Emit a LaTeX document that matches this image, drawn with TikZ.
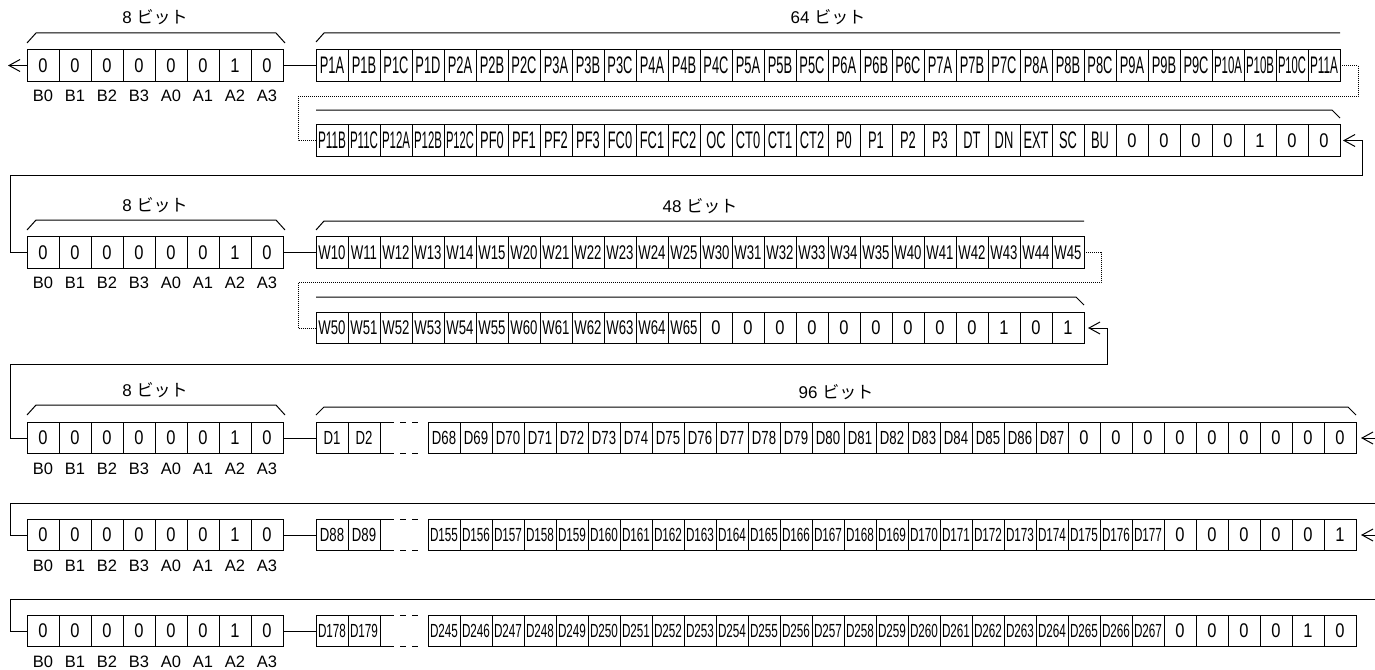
\documentclass[tikz,border=0pt]{standalone}
\usepackage{fontspec}
\usepackage{graphicx}
\setmainfont{Liberation Sans}
\newfontfamily\jpfont{Noto Sans CJK JP}
\usetikzlibrary{arrows.meta}
\newsavebox\cbox
\newcommand\ct[3]{\sbox\cbox{\scalebox{#1}[#2]{#3}}\ifdim\wd\cbox>28pt\resizebox{28pt}{\height}{\usebox\cbox}\else\usebox\cbox\fi}
\newcommand\dig[1]{\scalebox{1}[1.2]{#1}}
\newcommand\bits[1]{#1 {\jpfont ビット}}
\begin{document}
\begin{tikzpicture}[x=1pt,y=-1pt,
  cellbox/.style={draw, line width=1pt, minimum width=32pt, minimum height=31.5pt, inner sep=0pt, outer sep=0pt, font=\fontsize{16.5}{18}\selectfont},
  lab/.style={inner sep=0pt, font=\fontsize{16.5}{18}\selectfont},
  blab/.style={inner sep=0pt, font=\fontsize{17}{20}\selectfont},
  conn/.style={line width=1pt},
  brace/.style={line width=1pt},
  dots/.style={line width=0.8pt, dash pattern=on 1pt off 1pt},
  gapdash/.style={line width=1pt, dash pattern=on 14pt off 6pt on 6pt off 6pt on 6pt off 10pt},
  arr/.style={line width=1pt, -{Straight Barb[length=11pt,width=12pt,line width=1pt]}}
]
\useasboundingbox (0,0) rectangle (1375,669);

% ---------- eight-bit blocks ----------
\foreach \r/\y in {r1/65.5, r3/252.5, r5/438, r6/535, r7/631}{
  \foreach \v [count=\i] in {0,0,0,0,0,0,1,0}
    \node[cellbox] (\r b\i) at ({11+32*\i},\y) {\dig{\v}};
  \foreach \l [count=\i] in {B0,B1,B2,B3,A0,A1,A2,A3}
    \node[lab] (\r l\i) at ({11+32*\i},{\y+30.5}) {\l};
}

% ---------- row 1 ----------
\foreach \t [count=\i] in {P1A,P1B,P1C,P1D,P2A,P2B,P2C,P3A,P3B,P3C,P4A,P4B,P4C,P5A,P5B,P5C,P6A,P6B,P6C,P7A,P7B,P7C,P8A,P8B,P8C,P9A,P9B,P9C,P10A,P10B,P10C,P11A}
  \node[cellbox] (r1c\i) at ({300+32*\i},65.5) {\ct{0.78}{1.45}{\t}};
% ---------- row 2 ----------
\foreach \t [count=\i] in {P11B,P11C,P12A,P12B,P12C,PF0,PF1,PF2,PF3,FC0,FC1,FC2,OC,CT0,CT1,CT2,P0,P1,P2,P3,DT,DN,EXT,SC,BU}
  \node[cellbox] (r2c\i) at ({300+32*\i},140.5) {\ct{0.78}{1.45}{\t}};
\foreach \v [count=\i from 26] in {0,0,0,0,1,0,0}
  \node[cellbox] (r2c\i) at ({300+32*\i},140.5) {\dig{\v}};
% ---------- row 3 ----------
\foreach \t [count=\i] in {W10,W11,W12,W13,W14,W15,W20,W21,W22,W23,W24,W25,W30,W31,W32,W33,W34,W35,W40,W41,W42,W43,W44,W45}
  \node[cellbox] (r3c\i) at ({300+32*\i},252.5) {\ct{0.8}{1.2}{\t}};
% ---------- row 4 ----------
\foreach \t [count=\i] in {W50,W51,W52,W53,W54,W55,W60,W61,W62,W63,W64,W65}
  \node[cellbox] (r4c\i) at ({300+32*\i},328) {\ct{0.8}{1.2}{\t}};
\foreach \v [count=\i from 13] in {0,0,0,0,0,0,0,0,0,1,0,1}
  \node[cellbox] (r4c\i) at ({300+32*\i},328) {\dig{\v}};
% ---------- rows 5-7 ----------
\foreach \r/\y/\a/\b/\lo/\hi/\zz in {r5/438/1/2/68/87/{0,0,0,0,0,0,0,0,0}, r6/535/88/89/155/177/{0,0,0,0,0,1}, r7/631/178/179/245/267/{0,0,0,0,1,0}}{
  \node[cellbox] (\r c1) at (332,\y) {\ct{0.8}{1.15}{D\a}};
  \node[cellbox] (\r c2) at (364,\y) {\ct{0.8}{1.15}{D\b}};
  \foreach \n [count=\i] in {\lo,...,\hi}
    \node[cellbox] (\r e\i) at ({412+32*\i},\y) {\ct{0.8}{1.15}{D\n}};
  \pgfmathtruncatemacro\k{\hi-\lo+2}
  \foreach \v [count=\i from \k] in \zz
    \node[cellbox] (\r e\i) at ({412+32*\i},\y) {\dig{\v}};
  \draw[gapdash] (\r c2.north east) -- (\r e1.north west);
  \draw[gapdash] (\r c2.south east) -- (\r e1.south west);
}

% ---------- links between 8-bit block and data ----------
\foreach \r in {r1,r3,r5,r6,r7}
  \draw[conn] (\r b8.east) -- (\r c1.west);

% ---------- braces and bit labels ----------
\foreach \t in {50,237,422}{
  \draw[brace] (27,{\t-7}) -- (36,{\t-17}) -- (276,{\t-17}) -- (285,{\t-7});
}
\node[blab] (lb1) at (155,17) {\bits{8}};
\node[blab] (lb3) at (155,205) {\bits{8}};
\node[blab] (lb5) at (155,390) {\bits{8}};
% 64 bit
\draw[brace] (316,42) -- (324,33) -- (1340,33);
\draw[brace] (316,110) -- (1332,110) -- (1340,118);
\node[blab] (l64) at (828,17) {\bits{64}};
% 48 bit
\draw[brace] (316,230) -- (324,221) -- (1084,221);
\draw[brace] (316,297) -- (1076,297) -- (1084,305);
\node[blab] (l48) at (700,206) {\bits{48}};
% 96 bit
\draw[brace] (316,415) -- (324,407) -- (1348,407) -- (1356,415);
\node[blab] (l96) at (836,392) {\bits{96}};

% ---------- dotted continuations ----------
\coordinate (d1) at (1358,96);
\coordinate (d2) at (298,96);
\draw[dots] (r1c32.east) -| (d1) -- (d2) |- (r2c1.west);
\coordinate (d3) at (1101,282);
\coordinate (d4) at (298,282);
\draw[dots] (r3c24.east) -| (d3) -- (d4) |- (r4c1.west);

% ---------- flow connectors ----------
\coordinate (out1) at (8,65.5);
\draw[arr] (r1b1.west) -- (out1);

\coordinate (L3) at (10,175);
\coordinate (R2) at (1362,175);
\draw[arr] (r3b1.west) -| (L3) -- (R2) |- ([xshift=3pt]r2c32.east);

\coordinate (L5) at (10,364);
\coordinate (R4) at (1107,364);
\draw[arr] (r5b1.west) -| (L5) -- (R4) |- ([xshift=4pt]r4c24.east);

\coordinate (E5) at (1375,438);
\draw[arr] (E5) -- ([xshift=5pt]r5e29.east);
\coordinate (L6) at (10,503.5);
\coordinate (E6) at (1375,503.5);
\draw[conn] (r6b1.west) -| (L6) -- (E6);

\coordinate (E6b) at (1375,535);
\draw[arr] (E6b) -- ([xshift=5pt]r6e29.east);
\coordinate (L7) at (10,599);
\coordinate (E7) at (1375,599);
\draw[conn] (r7b1.west) -| (L7) -- (E7);
\end{tikzpicture}
\end{document}
